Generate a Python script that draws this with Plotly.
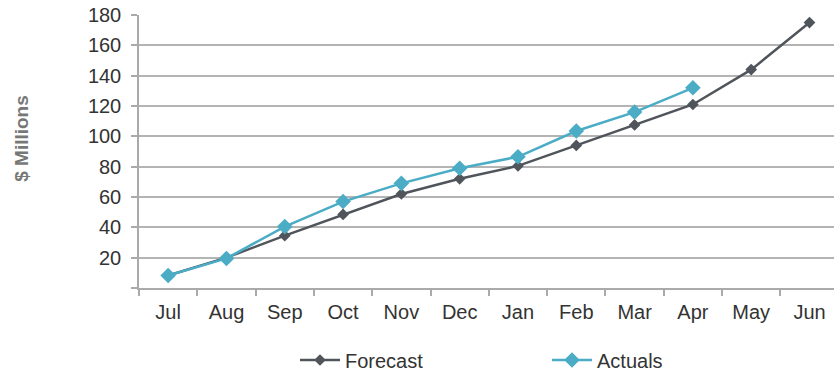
import plotly.graph_objects as go

months = ["Jul", "Aug", "Sep", "Oct", "Nov", "Dec", "Jan", "Feb", "Mar", "Apr", "May", "Jun"]
forecast = [8.2, 20, 34.5, 48.5, 62, 72, 80.5, 94, 107.5, 121, 144, 175]
actuals = [8.2, 19.5, 40.5, 57, 69, 79, 86.5, 103.5, 116, 132]
actual_months = months[:len(actuals)]
y_ticks = [0, 20, 40, 60, 80, 100, 120, 140, 160, 180]
y_tick_text = ["", "20", "40", "60", "80", "100", "120", "140", "160", "180"]

W, H = 834, 372
L, R, T, B = 139, 0, 15, 83.5

fig = go.Figure()
fig.add_trace(go.Scatter(
    x=months, y=forecast, name="Forecast", mode="lines+markers",
    line=dict(color="#50555b", width=2.5),
    marker=dict(symbol="diamond", size=9, color="#50555b"),
))
fig.add_trace(go.Scatter(
    x=actual_months, y=actuals, name="Actuals", mode="lines+markers",
    line=dict(color="#4bacc6", width=2.5),
    marker=dict(symbol="diamond", size=12, color="#4bacc6"),
))

fig.update_layout(
    width=W, height=H,
    margin=dict(l=L, r=R, t=T, b=B, autoexpand=False),
    paper_bgcolor="white", plot_bgcolor="white",
    font=dict(family="Liberation Sans, Arial, sans-serif", size=20, color="#333333"),
    showlegend=True,
    legend=dict(
        orientation="h", xref="container", x=295 / W, xanchor="left",
        yref="container", y=1 - 360 / H, yanchor="middle",
        entrywidth=197, entrywidthmode="pixels",
        font=dict(size=20, color="#333333"),
        itemwidth=40, borderwidth=0,
    ),
    xaxis=dict(
        type="category", categoryorder="array", categoryarray=months,
        range=[-0.5, 11.42],
        showgrid=False, showline=True, linecolor="#aaaaaa", linewidth=1.5,
        ticks="outside", tickson="boundaries", ticklen=6, tickcolor="#aaaaaa",
        tickwidth=1.5, tickfont=dict(size=20, color="#333333"),
        ticklabelstandoff=5,
    ),
    yaxis=dict(
        range=[0, 180], tickmode="array", tickvals=y_ticks, ticktext=y_tick_text,
        showgrid=True, gridcolor="#b4b4b4", gridwidth=1.5,
        showline=True, linecolor="#aaaaaa", linewidth=1.5,
        ticks="outside", ticklen=6, tickcolor="#aaaaaa", tickwidth=1.5,
        tickfont=dict(size=20, color="#333333"), zeroline=False,
        ticklabelstandoff=6,
    ),
    annotations=[dict(
        text="<b>$ Millions</b>", xref="paper", yref="paper",
        x=(22 - L) / (W - L - R), y=(288.5 - 139) / (288.5 - 15),
        xanchor="center", yanchor="middle",
        showarrow=False, textangle=-90,
        font=dict(size=19, color="#777777"),
    )],
)

fig.write_html("out.html")
